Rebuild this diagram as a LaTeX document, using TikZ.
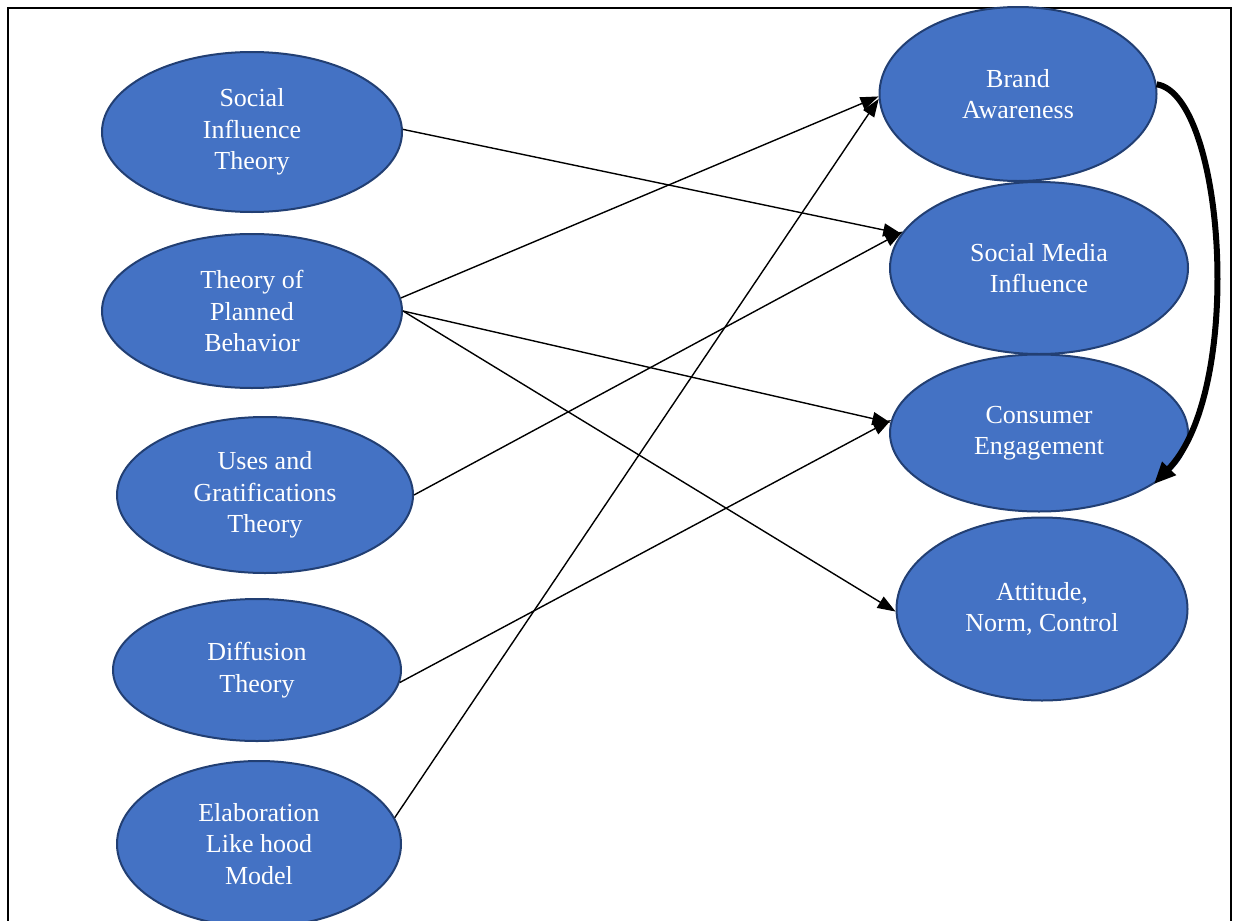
\documentclass[tikz,border=0pt]{standalone}
\usepackage{fontspec}
\setmainfont{Liberation Serif}
\usetikzlibrary{arrows.meta,shapes.geometric}
\definecolor{ellfill}{HTML}{4472C4}
\definecolor{elldraw}{HTML}{223F73}
\begin{document}
\begin{tikzpicture}[x=1pt,y=1pt,
  concept/.style={ellipse,draw=elldraw,line width=2pt,fill=ellfill,inner sep=0pt,
    text=white,align=center,font=\fontsize{26}{31.5}\selectfont},
  link/.style={-{Triangle[length=18pt,width=13pt]},line width=1.4pt,black},
  bigarrow/.style={-{Triangle[length=22pt,width=18pt]},line width=6pt,black}]
\useasboundingbox (0,0) rectangle (1235,-921);
\draw[line width=2.2pt] (8,-940) -- (8,-8) -- (1231,-8) -- (1231,-940);
% left column
\node[concept,minimum width=300pt,minimum height=160pt] (si) at (252,-132) {Social\\Influence\\Theory};
\node[concept,minimum width=300pt,minimum height=154pt] (tpb) at (252,-311) {Theory of\\Planned\\Behavior};
\node[concept,minimum width=296pt,minimum height=156pt] (ug) at (265,-495) {Uses and\\Gratifications\\Theory};
\node[concept,minimum width=288pt,minimum height=142pt] (dt) at (257,-670) {Diffusion\\Theory};
\node[concept,minimum width=284pt,minimum height=166pt] (elm) at (259,-844) {Elaboration\\Like hood\\Model};
% right column
\node[concept,minimum width=277pt,minimum height=174pt] (ba) at (1018,-94) {Brand\\Awareness};
\node[concept,minimum width=298pt,minimum height=172pt] (smi) at (1039,-268) {Social Media\\Influence};
\node[concept,minimum width=298pt,minimum height=157pt] (ce) at (1039,-433) {Consumer\\Engagement};
\node[concept,minimum width=291pt,minimum height=183pt] (anc) at (1042,-609) {Attitude,\\Norm, Control};
% connectors
\draw[link] (si.1.5) -- (smi.166);
\draw[link] (tpb.5.4) -- (ba.181);
\draw[link] (tpb.east) -- (ce.176.5);
\draw[link] (tpb.east) -- (anc.181.5);
\draw[link] (ug.east) -- (smi.165);
\draw[link] (dt.-5.6) -- (ce.175.5);
\draw[link] (elm.11) -- (ba.182);
\draw[bigarrow] (ba.4) .. controls (1225,-95) and (1245,-390) .. (ce.-24);
\end{tikzpicture}
\end{document}
